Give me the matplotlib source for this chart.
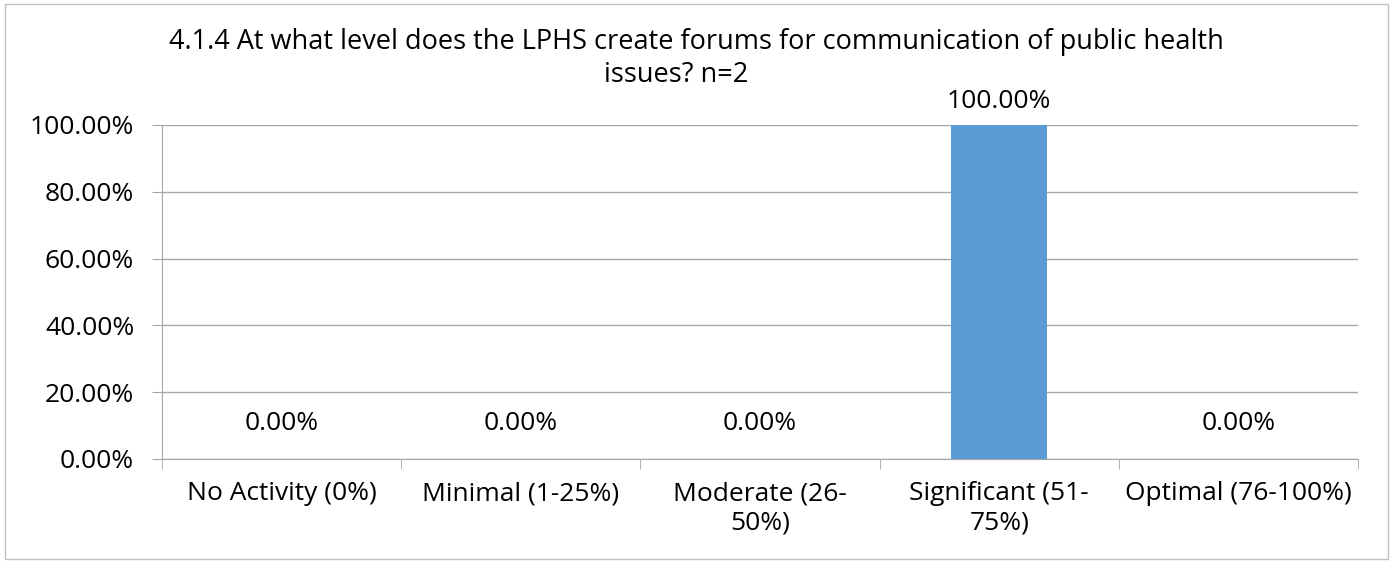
import numpy as np
import matplotlib
matplotlib.use("Agg")
import matplotlib.pyplot as plt
from matplotlib.patches import Rectangle
from matplotlib.ticker import FixedLocator

# Data
categories = ["No Activity (0%)", "Minimal (1-25%)", "Moderate (26-\n50%)",
              "Significant (51-\n75%)", "Optimal (76-100%)"]
values = [0.0, 0.0, 0.0, 100.0, 0.0]
y_ticks = [0, 20, 40, 60, 80, 100]
title_lines = ["4.1.4 At what level does the LPHS create forums for communication of public health",
               "issues? n=2"]

plt.rcParams['font.family'] = ['Open Sans', 'DejaVu Sans']
fs = 19
grey = "#A6A6A6"

fig = plt.figure(figsize=(13.91, 5.61), dpi=100)
ax = fig.add_axes([162 / 1391, 1 - 459 / 561, (1358 - 162) / 1391, (459 - 125) / 561])

# outer chart border
fig.patches.append(Rectangle((5 / 1391, 1 - 559 / 561), 1383 / 1391, 555 / 561,
                             transform=fig.transFigure, fill=False,
                             edgecolor="#BFBFBF", linewidth=1))

x = np.arange(len(categories))
ax.bar(x, values, width=0.4, color="#5B9BD5", zorder=3)

# labels for empty bars sit a bit higher above the axis, like in the original
for xi, v in zip(x, values):
    off = 12 if v > 0 else 21
    ax.annotate(f"{v:.2f}%", (xi, v), xytext=(0, off), textcoords="offset points",
                ha="center", va="baseline", fontsize=fs, color="#000000")

ax.set_xlim(-0.5, len(categories) - 0.5)
ax.set_ylim(0, 100)
ax.set_yticks(y_ticks)
ax.set_yticklabels([f"{t:.2f}%" for t in y_ticks], fontsize=fs)
ax.yaxis.grid(True, color=grey, linewidth=1, zorder=0)
ax.tick_params(axis="y", length=7, color=grey, pad=13)

ax.set_xticks(x)
ax.set_xticklabels(categories, fontsize=fs, linespacing=1.2)
ax.tick_params(axis="x", which="major", length=0, pad=16)
ax.xaxis.set_minor_locator(FixedLocator(np.arange(-0.5, len(categories), 1.0)))
ax.tick_params(axis="x", which="minor", length=7, color=grey)

for s in ["top", "right"]:
    ax.spines[s].set_visible(False)
for s in ["left", "bottom"]:
    ax.spines[s].set_color(grey)

fig.text(696 / 1391, 1 - 42 / 561, title_lines[0], ha="center", va="center", fontsize=19.5)
fig.text(676 / 1391, 1 - 75 / 561, title_lines[1], ha="center", va="center", fontsize=19.5)

fig.savefig("out.png", dpi=100)
